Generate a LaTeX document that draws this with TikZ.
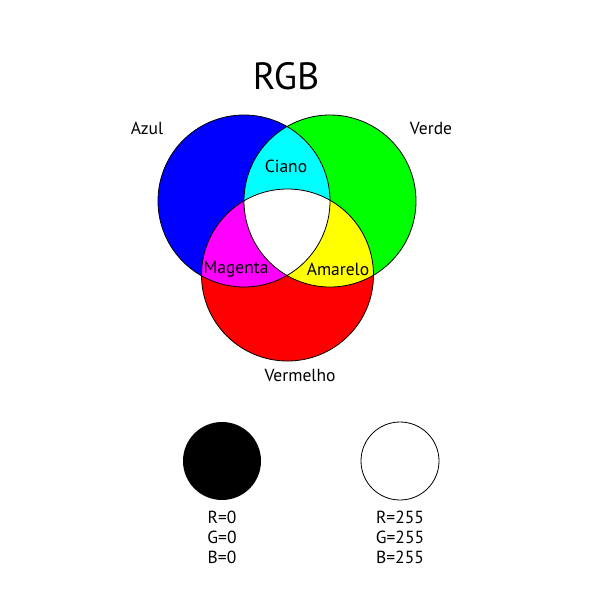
\documentclass[tikz,border=0pt]{standalone}
\usepackage{fontspec}
\setmainfont{PT Sans}
\definecolor{cB}{RGB}{0,0,255}
\definecolor{cG}{RGB}{0,255,0}
\definecolor{cR}{RGB}{255,0,0}
\definecolor{cC}{RGB}{0,255,255}
\definecolor{cM}{RGB}{255,0,255}
\definecolor{cY}{RGB}{255,255,0}
\begin{document}
\begin{tikzpicture}[x=1pt,y=-1pt,
  lbl/.style={inner sep=0pt,font=\fontsize{17.5}{20}\selectfont},
  ring/.style={draw=black,line width=0.8pt}]
\useasboundingbox (0,0) rectangle (600,600);
\fill[white] (0,0) rectangle (600,600);
\coordinate (cb) at (244,201);
\coordinate (cg) at (330,201);
\coordinate (cr) at (287.5,275);
\def\rr{86}
\fill[cB] (cb) circle[radius=\rr];
\fill[cG] (cg) circle[radius=\rr];
\fill[cR] (cr) circle[radius=\rr];
\begin{scope}\clip (cb) circle[radius=\rr]; \fill[cC] (cg) circle[radius=\rr]; \fill[cM] (cr) circle[radius=\rr];\end{scope}
\begin{scope}\clip (cg) circle[radius=\rr]; \fill[cY] (cr) circle[radius=\rr];\end{scope}
\begin{scope}\clip (cb) circle[radius=\rr]; \clip (cg) circle[radius=\rr]; \fill[white] (cr) circle[radius=\rr];\end{scope}
\draw[ring] (cb) circle[radius=\rr];
\draw[ring] (cg) circle[radius=\rr];
\draw[ring] (cr) circle[radius=\rr];
\node[inner sep=0pt,font=\fontsize{38}{42}\selectfont] (title) at (286,76) {RGB};
\node[lbl] (azul) at (147,128) {Azul};
\node[lbl] (verde) at (431,128) {Verde};
\node[lbl] (ciano) at (286,166) {Ciano};
\node[lbl] (magenta) at (236,269) {Magenta};
\node[lbl] (amarelo) at (338,269) {Amarelo};
\node[lbl] (vermelho) at (300,375) {Vermelho};
\fill[black] (222,461) circle[radius=39];
\draw[ring] (400,461) circle[radius=39];
\node[lbl,align=center] (k) at (222,537) {R=0\\[0pt]G=0\\[0pt]B=0};
\node[lbl,align=center] (w) at (400,537) {R=255\\[0pt]G=255\\[0pt]B=255};
\end{tikzpicture}
\end{document}
